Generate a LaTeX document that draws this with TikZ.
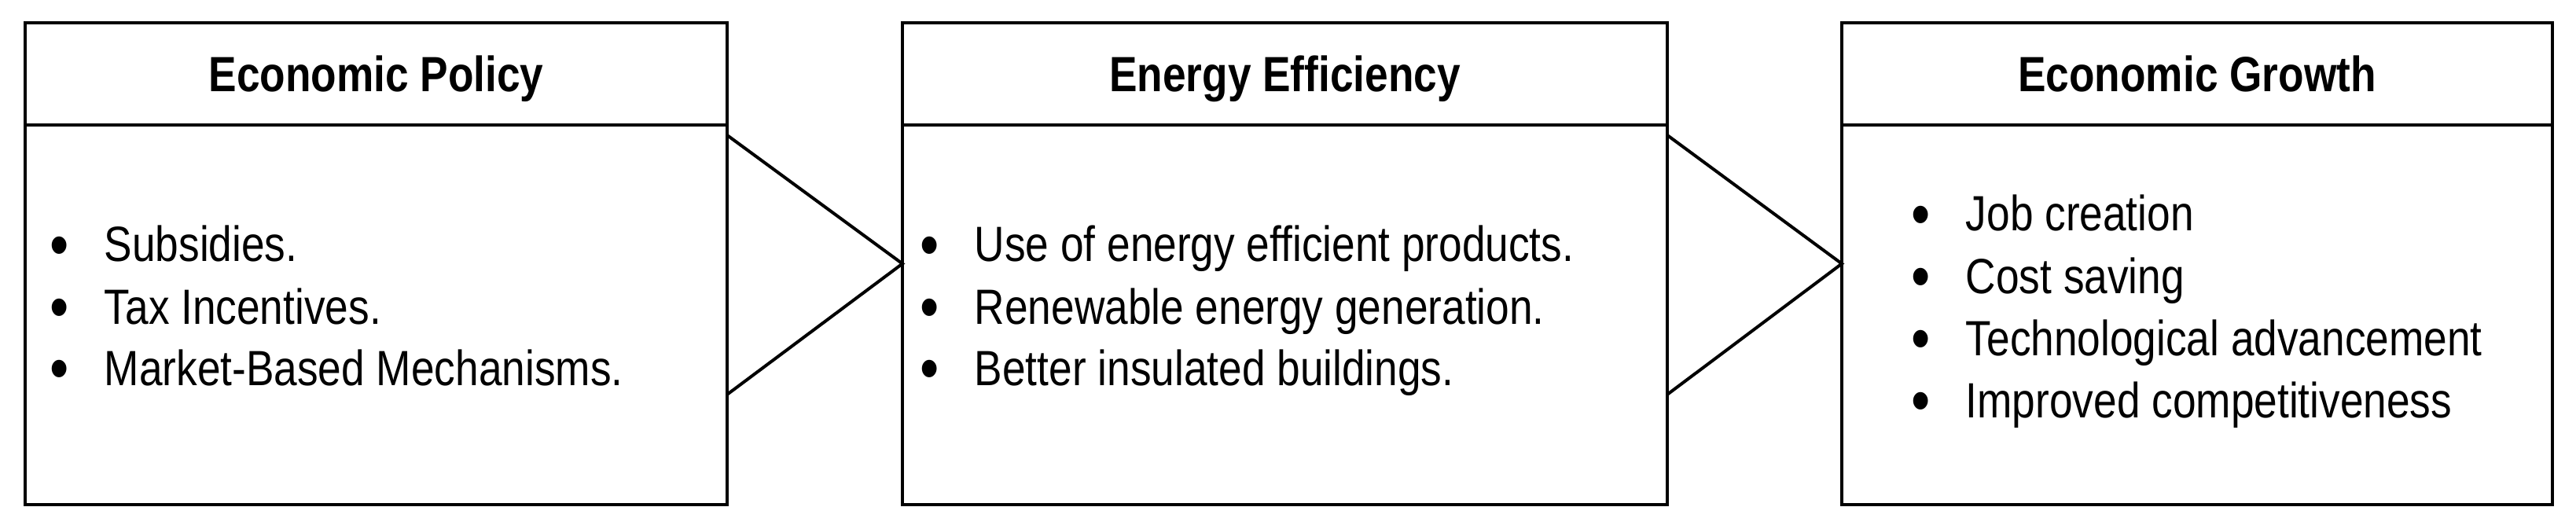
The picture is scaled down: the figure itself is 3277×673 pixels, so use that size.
\documentclass[tikz,border=0pt]{standalone}
\usepackage{graphicx}
\usepackage{fontspec}
\setmainfont{Liberation Sans}[FakeStretch=0.845]
\newcommand\itemmark{\makebox[0pt]{\raisebox{-1.6pt}{\scalebox{1.3}{•}}}\hspace{14.25pt}}
\begin{document}
\begin{tikzpicture}[x=0.25pt,y=-0.25pt,
  panel/.style={draw=black, line width=1.2pt, minimum width=#1, minimum height=153.25pt, inner sep=0pt, outer sep=0pt},
  head/.style={font=\bfseries\fontsize{15.75}{19}\selectfont, anchor=base, inner sep=0pt},
  entry/.style={font=\fontsize{15.75}{19}\selectfont, anchor=base west, inner sep=0pt},
  divider/.style={line width=1.2pt},
  chev/.style={line width=1pt, line join=miter}]
\useasboundingbox (0,0) rectangle (3277,673);
% boxes
\node[panel=223.25pt] (b1) at (478.5,335.5) {};
\node[panel=243.25pt] (b2) at (1634.5,335.5) {};
\node[panel=226pt] (b3) at (2795,335.5) {};
\coordinate (d) at (0,159);
\draw[divider] (b1.west |- d) -- (b1.east |- d);
\draw[divider] (b2.west |- d) -- (b2.east |- d);
\draw[divider] (b3.west |- d) -- (b3.east |- d);
% headers
\node[head] (h1) at (478.5,117) {Economic Policy};
\node[head] (h2) at (1634.5,117) {Energy Efficiency};
\node[head] (h3) at (2795,117) {Economic Growth};
% chevron connectors
\draw[chev] ([yshift=40.875pt]b1.east) -- (b2.west) -- ([yshift=-41.6pt]b1.east);
\draw[chev] ([yshift=40.875pt]b2.east) -- (b3.west) -- ([yshift=-41.6pt]b2.east);
% box 1 items
\node[entry] (p1) at (75,333) {\itemmark Subsidies.};
\node[entry] (p2) at (75,412) {\itemmark Tax Incentives.};
\node[entry] (p3) at (75,490) {\itemmark Market-Based Mechanisms.};
% box 2 items
\node[entry] (e1) at (1182,333) {\itemmark Use of energy efficient products.};
\node[entry] (e2) at (1182,412) {\itemmark Renewable energy generation.};
\node[entry] (e3) at (1182,490) {\itemmark Better insulated buildings.};
% box 3 items
\node[entry] (g1) at (2443,294) {\itemmark Job creation};
\node[entry] (g2) at (2443,373) {\itemmark Cost saving};
\node[entry] (g3) at (2443,452) {\itemmark Technological advancement};
\node[entry] (g4) at (2443,531) {\itemmark Improved competitiveness};
\end{tikzpicture}
\end{document}
